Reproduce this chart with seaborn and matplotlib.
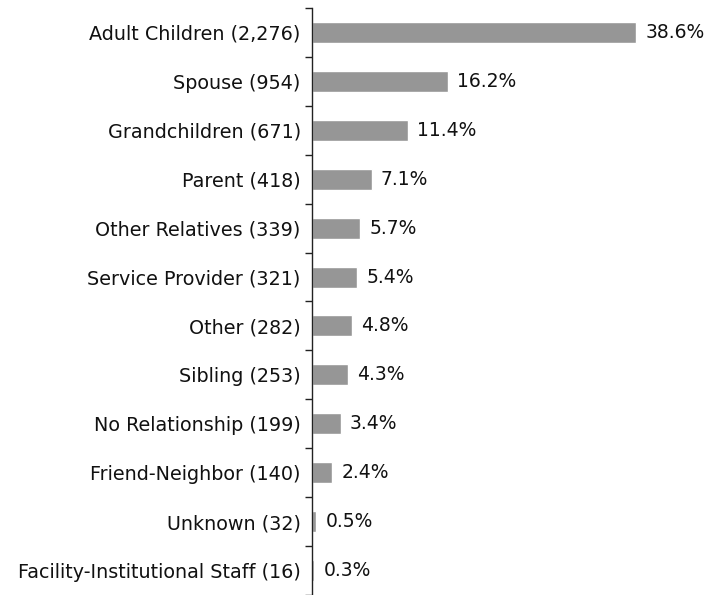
import seaborn as sns
import numpy as np
import matplotlib.pyplot as plt
import pandas as pd
from matplotlib.ticker import FixedLocator

categories = [
    "Adult Children (2,276)",
    "Spouse (954)",
    "Grandchildren (671)",
    "Parent (418)",
    "Other Relatives (339)",
    "Service Provider (321)",
    "Other (282)",
    "Sibling (253)",
    "No Relationship (199)",
    "Friend-Neighbor (140)",
    "Unknown (32)",
    "Facility-Institutional Staff (16)",
]
percents = [38.6, 16.2, 11.4, 7.1, 5.7, 5.4, 4.8, 4.3, 3.4, 2.4, 0.5, 0.3]

sns.set_style("white")
plt.rcParams["font.family"] = ["DejaVu Sans"]

df = pd.DataFrame({"rel": categories, "pct": percents})

fig = plt.figure(figsize=(7.1, 5.95), dpi=100)
ax = fig.add_axes([0.4394, 0.0, 0.5606, 0.9866])
sns.barplot(data=df, x="pct", y="rel", orient="h", color="#969696",
            saturation=1, width=0.43, ax=ax)

for i, v in enumerate(percents):
    ax.text(v + 1.1, i, f"{v}%", va="center", ha="left", fontsize=13.5, color="#111111")

ax.set_xlim(0, 47.4)
ax.set_ylim(len(categories) - 0.5, -0.5)
ax.set_xlabel("")
ax.set_ylabel("")
ax.set_xticks([])
for s in ["top", "right", "bottom"]:
    ax.spines[s].set_visible(False)
ax.spines["left"].set_color("#222222")
ax.spines["left"].set_linewidth(1)
ax.tick_params(axis="y", which="major", length=0, labelsize=13.8, pad=8, labelcolor="#111111")
ax.yaxis.set_minor_locator(FixedLocator(np.arange(-0.5, len(categories), 1.0)))
ax.tick_params(axis="y", which="minor", length=5, width=1, color="#222222", direction="out", left=True)

fig.savefig("out.png", dpi=100)
